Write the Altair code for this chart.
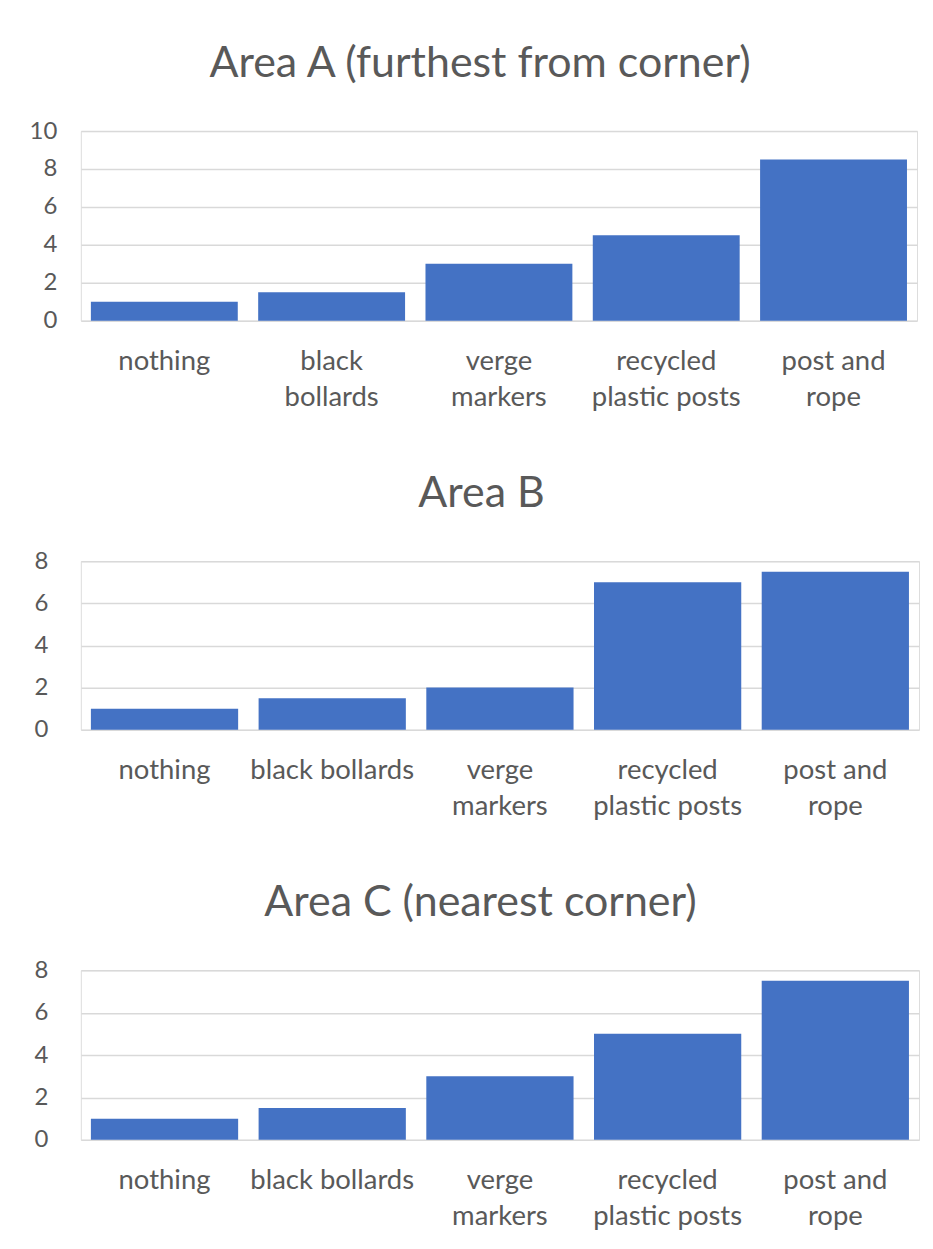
import altair as alt
import pandas as pd

categories = ["nothing", "black bollards", "verge markers", "recycled plastic posts", "post and rope"]
labels_a = ["nothing", "black|bollards", "verge|markers", "recycled|plastic posts", "post and|rope"]
labels_bc = ["nothing", "black bollards", "verge|markers", "recycled|plastic posts", "post and|rope"]
values_a = [1, 1.5, 3, 4.5, 8.5]
values_b = [1, 1.5, 2, 7, 7.5]
values_c = [1, 1.5, 3, 5, 7.5]
titles = ["Area A (furthest from corner)", "Area B", "Area C (nearest corner)"]
y_max = [10, 8, 8]

TEXT = "#595959"
GRID = "#d9d9d9"
BAR = "#4472c4"
FONT = "Lato"


def panel(title, labels, values, ymax, width, height, ypad, title_dx):
    df = pd.DataFrame({"category": categories, "label": labels, "value": values})
    return (
        alt.Chart(df, title=alt.Title(title, fontSize=43, font=FONT, color=TEXT,
                                      fontWeight="normal", anchor="middle", frame="bounds",
                                      offset=33, dx=title_dx))
        .mark_bar(color=BAR)
        .encode(
            x=alt.X("label:N", sort=labels, title=None,
                    scale=alt.Scale(paddingInner=0.122, paddingOuter=0.06),
                    axis=alt.Axis(labelExpr="split(datum.value, '|')", labelAngle=0,
                                  labelFont=FONT, labelFontSize=27.5, labelColor=TEXT,
                                  labelLineHeight=36, labelPadding=27, labelBaseline="top",
                                  ticks=False, domain=False, grid=False)),
            y=alt.Y("value:Q", title=None, scale=alt.Scale(domain=[0, ymax], nice=False),
                    axis=alt.Axis(values=list(range(0, ymax + 1, 2)), labelFont=FONT,
                                  labelFontSize=24, labelColor=TEXT, labelPadding=ypad,
                                  ticks=False, domain=False, grid=True, gridColor=GRID,
                                  gridWidth=1.5)),
        )
        .properties(width=width, height=height)
    )


chart_a = panel(titles[0], labels_a, values_a, y_max[0], 838, 190, 24, 7)
chart_b = panel(titles[1], labels_bc, values_b, y_max[1], 840, 169, 33, 5)
chart_c = panel(titles[2], labels_bc, values_c, y_max[2], 840, 170, 33, 4)

chart = (
    alt.concat(chart_a, chart_b, chart_c, columns=1, align="none", spacing=61)
    .properties(padding={"left": 20, "top": 33, "right": 5, "bottom": 5})
    .configure_view(stroke=None)
    .configure(background="white")
)

chart.save("out.html", embed_options={"renderer": "svg", "actions": False})
